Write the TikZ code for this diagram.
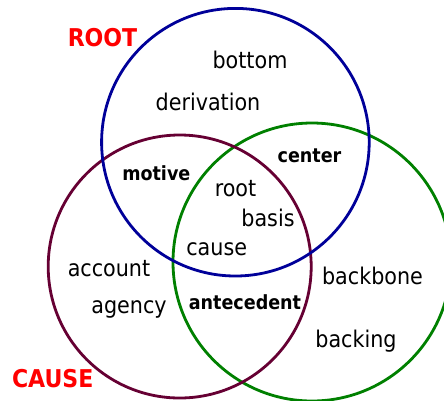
\documentclass[tikz,border=0pt]{standalone}
\usepackage{fontspec}
\setmainfont{DejaVu Sans Condensed}
\definecolor{rootblue}{RGB}{0,0,153}
\definecolor{causemaroon}{RGB}{102,0,51}
\definecolor{basegreen}{RGB}{0,128,0}
\definecolor{labelred}{RGB}{255,0,0}
\tikzset{
  setline/.style={line width=2.8pt},
  word/.style={inner sep=0pt, anchor=base, font=\fontsize{23}{23}\selectfont},
  shared/.style={inner sep=0pt, anchor=base, font=\fontsize{19.5}{19.5}\selectfont\bfseries},
  setname/.style={inner sep=0pt, anchor=base, text=labelred, font=\fontsize{24.5}{24.5}\selectfont\bfseries}
}
\begin{document}
\begin{tikzpicture}[x=1pt,y=-1pt]
  \useasboundingbox (0,0) rectangle (444,400);
  \begin{scope}
    \clip (0,0) rectangle (444,400);
    % the three sets
    \draw[setline, basegreen] (312,262) circle[radius=139];
    \draw[setline, causemaroon] (179.7,266.5) circle[radius=131.5];
    \draw[setline, rootblue] (235.4,142.2) circle[radius=133.8];
  \end{scope}
  % set names
  \node[setname] (rootname) at (102.5,46.5) {ROOT};
  \node[setname] (causename) at (52.7,387) {CAUSE};
  % words in one set only
  \node[word] (bottom) at (250,68) {bottom};
  \node[word] (derivation) at (208,110) {derivation};
  \node[word] (account) at (109,276) {account};
  \node[word] (agency) at (129,313.3) {agency};
  \node[word] (backbone) at (372.5,284) {backbone};
  \node[word] (backing) at (356,347) {backing};
  % words shared by two sets
  \node[shared] (motive) at (156.3,180) {motive};
  \node[shared] (center) at (309.5,162) {center};
  \node[shared] (antecedent) at (245,309) {antecedent};
  % words in all three sets
  \node[word] (root) at (235.5,196.7) {root};
  \node[word] (basis) at (268,226.7) {basis};
  \node[word] (cause) at (216.7,255) {cause};
\end{tikzpicture}
\end{document}
